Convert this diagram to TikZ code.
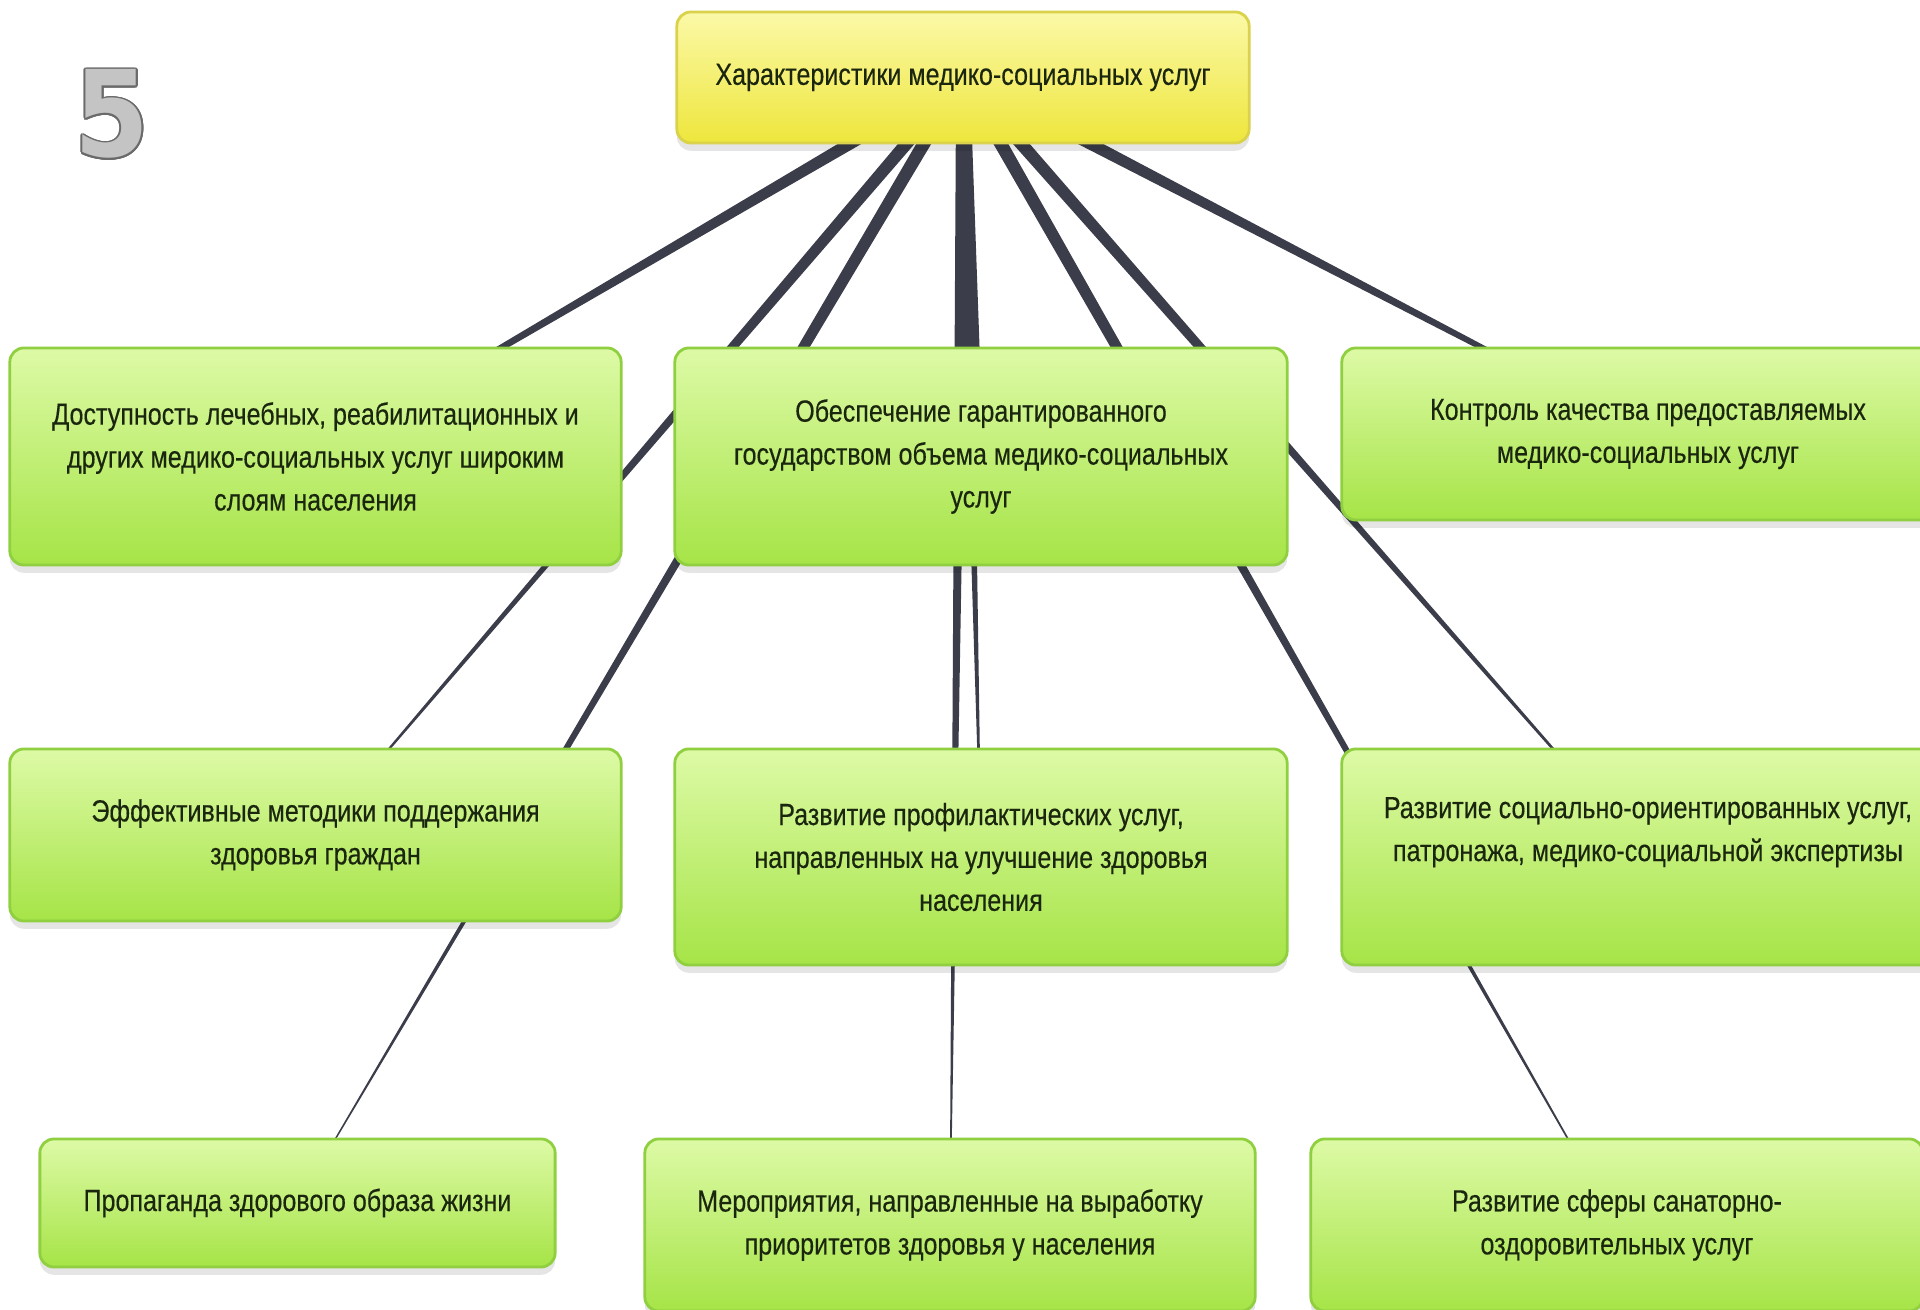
\documentclass[tikz,border=0pt]{standalone}
\usepackage{fontspec}
\setmainfont{Liberation Sans}[FakeStretch=0.82, FakeBold=0.35]
\newfontfamily\numfont{DejaVu Sans}[FakeStretch=0.9]
\usepackage{contour}
\usetikzlibrary{calc,shadows}
\pgfdeclarelayer{background}
\pgfsetlayers{background,main}

\definecolor{branchcol}{HTML}{3B3E4A}
\definecolor{leaftop}{HTML}{DDFAA6}
\definecolor{leafmid}{HTML}{BEEE6A}
\definecolor{leafbot}{HTML}{A6E447}
\definecolor{leafedge}{HTML}{8FCF40}
\definecolor{roottop}{HTML}{FBF9A8}
\definecolor{rootmid}{HTML}{F5EF5E}
\definecolor{rootbot}{HTML}{EEE63C}
\definecolor{rootedge}{HTML}{DAD24A}
\definecolor{ink}{HTML}{1B260F}
\definecolor{numfill}{HTML}{C4C4C4}
\definecolor{numedge}{HTML}{6A6A6A}

% tapered branch from the centre of #1 to the centre of #2,
% half width #3 at the start and #4 at the end
\newcommand\branch[4]{%
  \fill[branchcol] ($(#1)!#3!90:(#2)$) -- ($(#2)!#4!-90:(#1)$)
    -- ($(#2)!#4!90:(#1)$) -- ($(#1)!#3!-90:(#2)$) -- cycle;}

\tikzset{
  card/.style={rounded corners=4pt, inner sep=0pt, align=center,
    text=ink, font=\fontsize{8.7}{12.2}\selectfont, line width=0.8pt,
    drop shadow={shadow xshift=0pt, shadow yshift=-2.2pt, fill=black, opacity=0.1}},
  leaf/.style={card, draw=leafedge, top color=leaftop, middle color=leafmid, bottom color=leafbot},
  rootcard/.style={card, draw=rootedge, top color=roottop, middle color=rootmid, bottom color=rootbot},
}

\begin{document}
\begin{tikzpicture}[x=0.01cm, y=-0.01cm]
\useasboundingbox (0,0) rectangle (1920,1310);

% slide number: light grey glyph with a dark outline
\node[inner sep=0pt] (num) at (112,115)
  {\numfont\bfseries\fontsize{34}{34}\selectfont\contourlength{0.45pt}%
   \color{numfill}\contour{numedge}{5}};

% central topic
\node[rootcard, minimum width=5.72cm, minimum height=1.31cm] (root) at (963,77.5)
  {Характеристики медико-социальных услуг};

% first row
\node[leaf, minimum width=6.11cm, minimum height=2.17cm] (a1) at (315.5,456.5)
  {Доступность лечебных, реабилитационных и\\других медико-социальных услуг широким\\слоям населения};
\node[leaf, minimum width=6.12cm, minimum height=2.17cm] (b1) at (981,456.5)
  {Обеспечение гарантированного\\государством объема медико-социальных\\услуг};
\node[leaf, minimum width=6.12cm, minimum height=1.72cm] (c1) at (1648,434)
  {Контроль качества предоставляемых\\медико-социальных услуг};

% second row
\node[leaf, minimum width=6.11cm, minimum height=1.72cm] (a2) at (315.5,835)
  {Эффективные методики поддержания\\здоровья граждан};
\node[leaf, minimum width=6.12cm, minimum height=2.16cm] (b2) at (981,857)
  {Развитие профилактических услуг,\\направленных на улучшение здоровья\\населения};
\node[leaf, minimum width=6.12cm, minimum height=2.16cm] (c2) at (1648,857)
  {Развитие социально-ориентированных услуг,\\патронажа, медико-социальной экспертизы\\\strut};

% third row
\node[leaf, minimum width=5.15cm, minimum height=1.28cm] (a3) at (297.5,1203)
  {Пропаганда здорового образа жизни};
\node[leaf, minimum width=6.10cm, minimum height=1.72cm] (b3) at (950,1225)
  {Мероприятия, направленные на выработку\\приоритетов здоровья у населения};
\node[leaf, minimum width=6.12cm, minimum height=1.72cm] (c3) at (1617,1225)
  {Развитие сферы санаторно-\\оздоровительных услуг};

% branches, all from the central topic, behind the cards
\begin{pgfonlayer}{background}
  \branch{root}{a1}{1.95pt}{0.5pt}
  \branch{root}{b1}{1.95pt}{0.7pt}
  \branch{root}{c1}{1.95pt}{0.45pt}
  \branch{root}{a2}{1.95pt}{0.12pt}
  \branch{root}{b2}{1.95pt}{0.12pt}
  \branch{root}{c2}{1.95pt}{0.12pt}
  \branch{root}{a3}{1.95pt}{0.1pt}
  \branch{root}{b3}{1.95pt}{0.1pt}
  \branch{root}{c3}{1.95pt}{0.1pt}
\end{pgfonlayer}
\end{tikzpicture}
\end{document}
